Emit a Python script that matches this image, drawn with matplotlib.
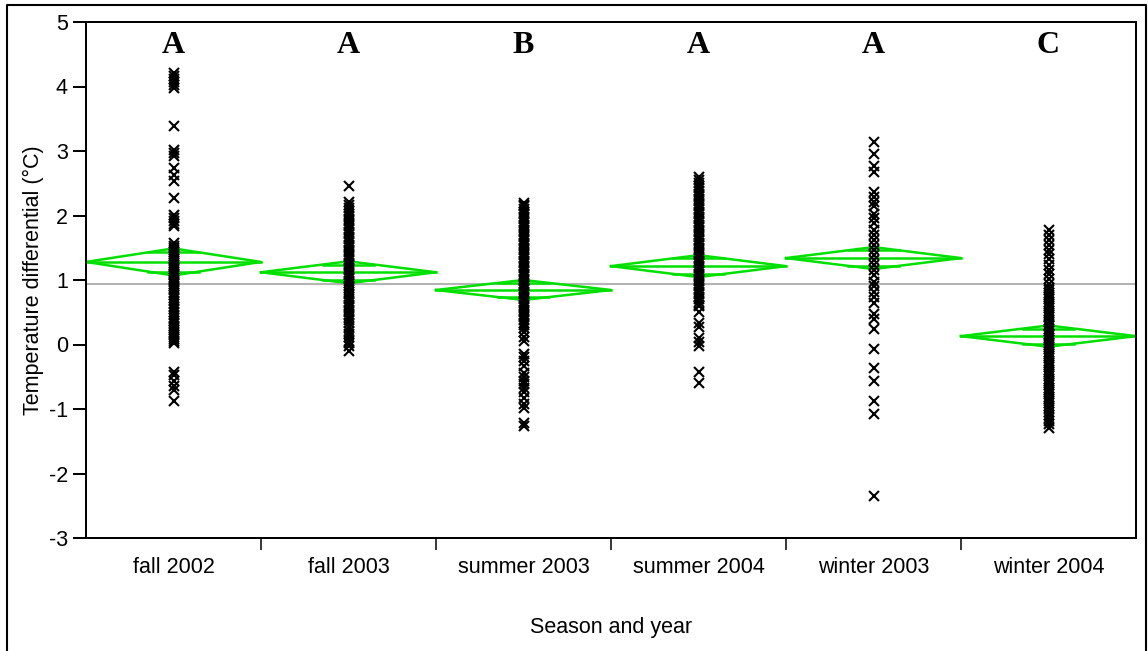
import numpy as np
import matplotlib
matplotlib.use("Agg")
import matplotlib.pyplot as plt
from matplotlib.lines import Line2D

# categories, group letters and means-diamond statistics
categories = ["fall 2002", "fall 2003", "summer 2003", "summer 2004", "winter 2003", "winter 2004"]
letters = ["A", "A", "B", "A", "A", "C"]
means = [1.28, 1.12, 0.845, 1.215, 1.34, 0.13]
ci_half = [0.21, 0.17, 0.155, 0.17, 0.17, 0.165]
grand_mean = 0.935

# individual temperature differentials per group
fall_2002 = [4.21, 4.16, 4.12, 4.07, 4.02, 3.98, 3.38, 3.01, 2.97, 2.92, 2.74, 2.63, 2.53,
             2.27, 2.01, 1.96, 1.91, 1.87, 1.83,
             1.57, 1.53, 1.50, 1.46, 1.43, 1.40, 1.37, 1.33, 1.30, 1.27, 1.23, 1.20, 1.17,
             1.13, 1.10, 1.07, 1.03, 1.00, 0.97, 0.94, 0.91, 0.87, 0.84, 0.80, 0.76, 0.72,
             0.68, 0.63, 0.58, 0.55, 0.50, 0.45, 0.41, 0.37, 0.33, 0.29, 0.26, 0.22, 0.18,
             0.14, 0.11, 0.08, 0.05, 0.02,
             -0.42, -0.48, -0.57, -0.64, -0.70, -0.88]
fall_2003 = [2.45, 2.21, 2.16, 2.12, 2.07, 2.03, 1.99, 1.95, 1.91, 1.87, 1.83, 1.79, 1.75,
             1.71, 1.67, 1.63, 1.59, 1.55, 1.51, 1.47, 1.43, 1.39, 1.35, 1.31, 1.27, 1.23,
             1.19, 1.15, 1.11, 1.07, 1.03, 0.99, 0.95, 0.91, 0.87, 0.82, 0.78, 0.74, 0.70,
             0.66, 0.62, 0.58, 0.54, 0.50, 0.46, 0.42, 0.38, 0.33, 0.27, 0.21, 0.16, 0.11,
             0.06, 0.02, -0.03, -0.10]
summer_2003 = [2.20, 2.17, 2.14, 2.10, 2.06, 2.02, 1.98, 1.94, 1.90, 1.86, 1.82, 1.78, 1.74,
               1.70, 1.66, 1.62, 1.58, 1.54, 1.50, 1.46, 1.42, 1.38, 1.34, 1.30, 1.26, 1.22,
               1.18, 1.14, 1.10, 1.06, 1.02, 0.98, 0.94, 0.90, 0.86, 0.82, 0.78, 0.74, 0.70,
               0.66, 0.62, 0.58, 0.54, 0.50, 0.46, 0.42, 0.38, 0.34, 0.30, 0.25, 0.19, 0.12,
               0.06, -0.14, -0.19, -0.25, -0.33, -0.44, -0.50, -0.57, -0.62, -0.67, -0.73,
               -0.83, -0.93, -0.98, -1.21, -1.27]
summer_2004 = [2.60, 2.55, 2.50, 2.46, 2.42, 2.38, 2.34, 2.30, 2.26, 2.22, 2.18, 2.14, 2.10,
               2.06, 2.02, 1.98, 1.94, 1.90, 1.86, 1.82, 1.78, 1.74, 1.70, 1.66, 1.62, 1.58,
               1.54, 1.50, 1.46, 1.42, 1.38, 1.34, 1.30, 1.26, 1.22, 1.18, 1.14, 1.10, 1.06,
               1.02, 0.98, 0.94, 0.90, 0.86, 0.82, 0.78, 0.74, 0.70, 0.66, 0.62, 0.59,
               0.51, 0.33, 0.27, 0.10, 0.04, -0.02, -0.42, -0.60]
winter_2003 = [3.14, 2.96, 2.76, 2.68, 2.37, 2.29, 2.21, 2.14, 2.03, 1.96, 1.88, 1.78, 1.70,
               1.62, 1.54, 1.47, 1.39, 1.31, 1.23, 1.16, 1.08, 0.97, 0.90, 0.82, 0.74, 0.64,
               0.48, 0.40, 0.24, -0.07, -0.37, -0.57, -0.88, -1.07, -2.35]
winter_2004 = [1.77, 1.70, 1.62, 1.55, 1.47, 1.40, 1.32, 1.24, 1.16, 1.09, 1.01, 0.94, 0.88,
               0.84, 0.80, 0.77, 0.73, 0.70, 0.66, 0.63, 0.59, 0.56, 0.52, 0.49, 0.45, 0.42,
               0.38, 0.35, 0.31, 0.28, 0.24, 0.21, 0.17, 0.14, 0.10, 0.07, 0.03, 0.00, -0.04,
               -0.07, -0.11, -0.14, -0.18, -0.21, -0.25, -0.28, -0.32, -0.35, -0.39, -0.42,
               -0.46, -0.49, -0.53, -0.56, -0.60, -0.63, -0.67, -0.70, -0.74, -0.77, -0.81,
               -0.84, -0.88, -0.91, -0.95, -0.98, -1.04, -1.09, -1.14, -1.19, -1.24, -1.29]
groups = [fall_2002, fall_2003, summer_2003, summer_2004, winter_2003, winter_2004]

plt.rcParams['font.family'] = ['Liberation Sans', 'DejaVu Sans']
plt.rcParams['axes.unicode_minus'] = False

fig = plt.figure(figsize=(11.48, 6.51), dpi=100)
ax = fig.add_axes([86 / 1148, 1 - 538 / 651, 1050 / 1148, 516 / 651])

green = '#00e000'
half = 0.5
k = 1 / np.sqrt(2)

# grand mean reference line
ax.axhline(grand_mean, color='#b4b4b4', lw=1.5, zorder=1)

for i, (m, h) in enumerate(zip(means, ci_half)):
    # diamond outline
    ax.plot([i - half, i, i + half, i, i - half], [m, m + h, m, m - h, m],
            color=green, lw=1.8, zorder=2)
    # mean line
    ax.plot([i - half, i + half], [m, m], color=green, lw=1.8, zorder=2)
    # overlap marks
    w = half * (1 - k)
    for s in (1, -1):
        ax.plot([i - w, i + w], [m + s * h * k] * 2, color=green, lw=1.8, zorder=2)

for i, vals in enumerate(groups):
    ax.plot(np.full(len(vals), i), vals, 'x', color='black', ms=7, mew=1.5, zorder=3)

for i, letter in enumerate(letters):
    ax.text(i, 4.52, letter, ha='center', va='baseline', fontsize=23,
            fontweight='bold', family='Liberation Serif')

ax.set_xlim(-0.5, len(categories) - 0.5)
ax.set_ylim(-3, 5)
ax.set_yticks(range(-3, 6))
ax.set_xticks(range(len(categories)))
ax.set_xticklabels(categories)
ax.set_xticks(np.arange(0.5, len(categories) - 0.5, 1), minor=True)

ax.tick_params(axis='y', direction='out', length=9.4, width=1.44, labelsize=15.5, pad=3.6)
ax.tick_params(axis='x', which='major', length=0, labelsize=15.5, pad=14)
ax.tick_params(axis='x', which='minor', direction='out', length=8.6, width=1.1)
ax.tick_params(axis='y', which='minor', left=False)

for sp in ax.spines.values():
    sp.set_linewidth(1.44)
    sp.set_color('black')

fig.text(33 / 1148, 1 - 280 / 651, 'Temperature differential (°C)', rotation=90,
         ha='center', va='center', fontsize=15.5)
fig.text(611 / 1148, 1 - 628 / 651, 'Season and year', ha='center', va='center', fontsize=15.5)

# outer frame, open at the bottom edge of the image
fig.add_artist(Line2D([7 / 1148, 7 / 1148, 1146 / 1148, 1146 / 1148],
                      [0, 1 - 5 / 651, 1 - 5 / 651, 0],
                      transform=fig.transFigure, color='black', lw=1.5))

fig.savefig('out.png', dpi=100)
